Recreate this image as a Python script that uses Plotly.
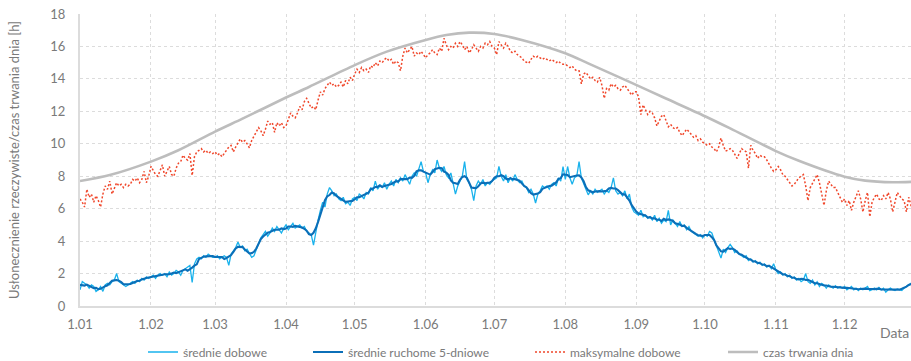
import pandas as pd
import plotly.graph_objects as go

# --- daily mean sunshine duration [h], month by month ---
mean_jan = [1.0, 1.5, 1.4, 1.3, 1.1, 1.3, 1.2, 0.9, 1.0, 1.2, 0.9, 1.3, 1.4, 1.3, 1.5, 1.6,
            2.0, 1.5, 1.4, 1.3, 1.2, 1.3, 1.4, 1.5, 1.4, 1.6, 1.5, 1.7, 1.6, 1.8, 1.7]
mean_feb = [1.8, 1.9, 1.7, 1.9, 2.0, 1.9, 2.0, 1.8, 2.1, 1.9, 2.0, 2.2, 2.1, 1.9, 2.2, 2.3,
            2.4, 2.5, 1.45, 2.6, 2.9, 3.0, 2.9, 3.1, 3.0, 3.2, 3.1, 3.0]
mean_mar = [3.0, 3.1, 2.9, 3.0, 3.1, 3.0, 2.5, 3.2, 3.4, 3.6, 3.95, 3.6, 3.7, 3.4, 3.5, 3.2,
            3.0, 3.1, 3.5, 3.9, 4.2, 4.4, 4.6, 4.3, 4.5, 4.8, 4.6, 4.9, 4.7, 4.5, 4.8]
mean_apr = [5.0, 4.7, 4.9, 5.1, 4.8, 4.9, 5.0, 4.8, 4.9, 4.6, 4.5, 4.4, 3.75, 4.6, 5.3, 5.9,
            6.4, 6.1, 6.9, 7.3, 7.1, 6.8, 6.9, 6.6, 6.5, 6.7, 6.3, 6.4, 6.2, 6.6]
mean_may = [6.7, 6.5, 6.9, 6.8, 6.6, 7.0, 6.9, 7.3, 7.1, 7.7, 7.2, 7.4, 7.3, 7.6, 7.2, 7.5,
            7.7, 7.4, 7.8, 7.6, 7.9, 7.7, 8.1, 7.8, 7.5, 8.0, 8.2, 8.0, 8.4, 8.9, 8.3]
mean_jun = [8.2, 7.6, 8.1, 8.4, 8.2, 9.0, 8.5, 8.3, 8.6, 8.1, 7.9, 8.2, 7.6, 6.9, 7.4, 7.7,
            8.0, 8.9, 7.8, 7.6, 7.2, 6.5, 7.4, 7.7, 7.5, 7.8, 7.4, 7.6, 7.5, 7.7]
mean_jul = [7.8, 7.9, 8.6, 8.0, 7.7, 8.1, 7.6, 7.9, 7.7, 8.1, 7.8, 7.6, 7.7, 7.4, 7.3, 7.0,
            7.2, 6.9, 6.35, 6.9, 7.1, 7.4, 7.3, 7.4, 7.2, 7.5, 7.6, 7.4, 7.9, 7.7, 8.6]
mean_aug = [7.8, 8.6, 7.9, 7.5, 7.9, 8.0, 8.9, 7.9, 7.6, 7.2, 6.85, 7.1, 6.9, 7.2, 7.0, 7.1,
            7.2, 6.9, 7.1, 7.0, 7.3, 7.9, 7.1, 6.9, 7.0, 6.8, 7.1, 6.6, 6.9, 6.1, 5.8]
mean_sep = [5.7, 5.6, 5.9, 5.5, 5.6, 5.4, 5.5, 5.3, 5.6, 5.2, 5.4, 5.1, 5.3, 5.2, 5.9, 5.0,
            5.3, 5.1, 4.9, 5.2, 4.9, 5.0, 4.7, 4.9, 4.6, 4.5, 4.4, 4.3, 4.4, 4.2]
mean_oct = [4.4, 4.3, 4.6, 4.5, 4.1, 3.7, 3.4, 2.95, 3.5, 3.3, 3.6, 3.8, 3.6, 3.3, 3.4, 3.2,
            3.1, 3.0, 3.1, 2.8, 2.9, 2.7, 2.8, 2.6, 2.7, 2.5, 2.6, 2.4, 2.5, 2.3, 2.6]
mean_nov = [2.2, 2.0, 2.1, 1.9, 2.0, 1.8, 1.9, 1.7, 1.8, 1.6, 1.7, 1.5, 1.6, 2.0, 1.5, 1.4,
            1.6, 1.3, 1.5, 1.2, 1.4, 1.3, 1.1, 1.3, 1.2, 1.1, 1.25, 1.1, 1.2, 1.1]
mean_dec = [1.2, 1.0, 1.1, 1.2, 1.0, 1.1, 0.95, 1.1, 1.0, 1.1, 1.2, 0.95, 1.0, 1.1, 1.0, 1.15,
            1.0, 1.1, 0.85, 1.0, 1.1, 1.0, 0.95, 1.05, 1.0, 0.95, 1.1, 1.2, 1.3, 1.4, 1.5]

# --- daily maximum sunshine duration [h] ---
max_jan = [6.6, 6.4, 6.1, 7.2, 6.7, 6.9, 6.4, 6.8, 6.5, 6.1, 6.9, 7.4, 7.2, 7.7, 6.9, 7.3,
           7.6, 7.4, 7.5, 7.3, 7.5, 7.4, 7.5, 7.8, 7.7, 7.9, 7.6, 7.8, 8.3, 7.6, 8.0]
max_feb = [8.6, 8.3, 8.1, 8.0, 8.4, 8.7, 8.0, 8.3, 8.6, 8.1, 8.0, 8.5, 8.8, 8.9, 9.3, 9.1,
           9.0, 9.4, 8.05, 9.2, 9.5, 9.6, 9.7, 9.5, 9.6, 9.4, 9.5, 9.4]
max_mar = [9.5, 9.3, 9.4, 9.2, 9.4, 9.6, 9.8, 9.9, 9.5, 9.8, 10.1, 10.3, 10.1, 10.2, 10.0, 9.75,
           10.2, 10.5, 10.7, 11.0, 10.8, 10.5, 10.9, 11.4, 11.2, 11.3, 10.7, 11.3, 11.1, 11.3, 11.0]
max_apr = [11.1, 11.5, 11.9, 11.7, 11.6, 11.9, 12.3, 12.1, 12.6, 12.8, 12.5, 12.2, 12.3, 12.1,
           12.7, 13.2, 13.0, 13.4, 13.6, 13.8, 13.6, 13.7, 13.5, 13.6, 13.8, 13.5, 13.9, 13.7,
           14.1, 13.9]
max_may = [14.3, 14.6, 14.4, 14.7, 14.5, 14.6, 14.4, 14.8, 14.7, 15.0, 14.8, 15.1, 15.0, 15.2,
           15.3, 15.1, 15.2, 14.9, 15.1, 15.0, 14.5, 15.4, 15.9, 15.6, 15.8, 16.0, 15.4, 15.6,
           15.5, 15.7, 15.5]
max_jun = [15.3, 15.5, 15.6, 15.8, 15.6, 15.5, 15.9, 15.7, 16.5, 16.1, 15.8, 16.0, 15.9, 16.2,
           16.0, 16.3, 16.1, 15.8, 16.0, 15.6, 15.8, 16.1, 15.9, 15.7, 16.0, 15.9, 16.2, 16.1,
           16.3, 16.0]
max_jul = [15.9, 15.5, 16.3, 16.1, 15.9, 16.2, 16.0, 15.7, 15.6, 15.7, 15.5, 15.4, 15.3, 15.1,
           15.0, 14.95, 15.2, 15.4, 15.3, 15.4, 15.3, 15.2, 15.3, 15.2, 15.1, 15.2, 15.1, 15.0,
           15.1, 14.95, 14.9]
max_aug = [14.9, 14.8, 14.7, 14.8, 14.6, 14.5, 14.5, 13.7, 14.3, 14.4, 14.2, 14.0, 14.1, 13.9,
           13.8, 14.1, 13.6, 12.8, 13.4, 13.3, 13.7, 13.5, 13.6, 13.4, 13.3, 13.5, 13.6, 13.4,
           13.2, 13.0, 13.2]
max_sep = [13.2, 12.9, 11.8, 12.4, 12.1, 11.8, 12.0, 11.9, 11.6, 11.1, 11.4, 11.7, 11.8, 11.4,
           11.05, 11.2, 11.0, 10.9, 11.0, 10.7, 10.5, 10.7, 10.9, 10.75, 10.6, 10.4, 10.5, 10.2,
           10.3, 10.1]
max_oct = [10.0, 9.9, 10.0, 9.8, 9.7, 9.5, 9.8, 10.35, 9.9, 9.55, 9.6, 9.7, 9.6, 9.3, 9.1, 9.4,
           9.7, 9.6, 9.5, 8.5, 9.9, 9.6, 9.4, 9.1, 9.3, 9.2, 9.2, 9.0, 8.7, 8.5, 8.3]
max_nov = [8.4, 8.6, 8.4, 8.1, 8.0, 7.8, 7.6, 7.4, 7.5, 7.7, 7.9, 8.0, 8.1, 7.4, 6.5, 7.3,
           7.6, 7.9, 8.1, 7.6, 7.0, 6.2, 7.1, 7.7, 7.5, 7.3, 7.3, 7.0, 6.8, 6.4]
max_dec = [6.6, 6.2, 6.5, 5.9, 6.4, 6.8, 7.1, 6.6, 5.8, 6.5, 7.0, 5.5, 6.4, 6.7, 6.9, 6.6,
           6.5, 6.8, 6.6, 7.0, 6.6, 5.8, 6.5, 7.0, 6.8, 6.6, 6.5, 5.8, 6.7, 6.2, 5.9]

# --- astronomical day length [h] ---
daylen_dates = ["2019-01-01", "2019-01-14", "2019-02-01", "2019-02-13", "2019-03-01",
                "2019-03-13", "2019-04-01", "2019-04-11", "2019-05-01", "2019-05-15",
                "2019-06-01", "2019-06-10", "2019-06-20", "2019-07-01", "2019-07-13",
                "2019-08-01", "2019-08-11", "2019-08-30", "2019-09-13", "2019-10-01",
                "2019-10-12", "2019-11-01", "2019-11-11", "2019-12-01", "2019-12-10",
                "2019-12-22", "2019-12-31"]
daylen_hours = [7.7, 8.07, 8.9, 9.6, 10.75, 11.55, 12.85, 13.5, 14.85, 15.68, 16.4, 16.7,
                16.85, 16.77, 16.4, 15.58, 14.96, 13.75, 12.85, 11.7, 10.95, 9.55, 8.95,
                7.97, 7.73, 7.63, 7.66]

# --- axis ticks ---
month_starts = ["2019-%02d-01" % m for m in range(1, 13)]
month_labels = ["1.01", "1.02", "1.03", "1.04", "1.05", "1.06",
                "1.07", "1.08", "1.09", "1.10", "1.11", "1.12"]

daily_mean = (mean_jan + mean_feb + mean_mar + mean_apr + mean_may + mean_jun +
              mean_jul + mean_aug + mean_sep + mean_oct + mean_nov + mean_dec)
daily_max = (max_jan + max_feb + max_mar + max_apr + max_may + max_jun +
             max_jul + max_aug + max_sep + max_oct + max_nov + max_dec)
days = pd.date_range("2019-01-01", periods=len(daily_mean), freq="D")
moving_avg = pd.Series(daily_mean).rolling(5, center=True, min_periods=1).mean()

FONT = "Lato, 'Open Sans', sans-serif"
GREY_TXT = "#7a7a7a"
GRID = "#dcdcdc"
W, H = 911, 361

fig = go.Figure()
fig.add_trace(go.Scatter(x=pd.to_datetime(daylen_dates), y=daylen_hours, mode="lines",
                         name="czas trwania dnia", legend="legend4",
                         line=dict(color="#bdbdbd", width=2.6, shape="spline", smoothing=0.8)))
fig.add_trace(go.Scatter(x=days, y=daily_max, mode="lines", name="maksymalne dobowe",
                         legend="legend3",
                         line=dict(color="#f0472b", width=1.5, dash="2px,2px")))
fig.add_trace(go.Scatter(x=days, y=daily_mean, mode="lines", name="średnie dobowe",
                         legend="legend",
                         line=dict(color="#19b2ec", width=1.3)))
fig.add_trace(go.Scatter(x=days, y=moving_avg, mode="lines", name="średnie ruchome 5-dniowe",
                         legend="legend2",
                         line=dict(color="#0b6fb8", width=2.1)))

legend_common = dict(orientation="h", xref="container", yref="container",
                     yanchor="middle", xanchor="left", y=1 - 352 / H,
                     font=dict(family=FONT, size=12, color=GREY_TXT),
                     bgcolor="rgba(0,0,0,0)", itemwidth=30)

fig.update_layout(
    width=W, height=H,
    margin=dict(l=80, r=0, t=14, b=55),
    paper_bgcolor="white", plot_bgcolor="white",
    font=dict(family=FONT, size=12, color=GREY_TXT),
    showlegend=True,
    legend=dict(legend_common, x=143 / W),
    legend2=dict(legend_common, x=308 / W),
    legend3=dict(legend_common, x=530 / W),
    legend4=dict(legend_common, x=723 / W),
    xaxis=dict(range=["2019-01-01", "2019-12-30"], tickvals=pd.to_datetime(month_starts),
               ticktext=month_labels, showgrid=True, gridcolor=GRID, griddash="3px,3px",
               gridwidth=1, showline=True, linecolor=GRID, linewidth=2,
               ticks="outside", ticklen=5, tickcolor="rgba(0,0,0,0)",
               tickfont=dict(family=FONT, size=13, color=GREY_TXT), zeroline=False),
    yaxis=dict(range=[0, 18], dtick=2, showgrid=True, gridcolor=GRID, griddash="3px,3px",
               gridwidth=1, showline=True, linecolor=GRID, linewidth=2,
               ticks="outside", ticklen=10, tickcolor="rgba(0,0,0,0)",
               tickfont=dict(family=FONT, size=13, color=GREY_TXT), zeroline=False,
               title=dict(text="Usłonecznienie rzeczywiste/czas trwania dnia [h]",
                          font=dict(family=FONT, size=13, color=GREY_TXT), standoff=28)),
    annotations=[dict(text="Data", xref="paper", yref="paper", x=1, y=0, xanchor="right",
                      yanchor="top", yshift=-16, showarrow=False,
                      font=dict(family=FONT, size=14, color=GREY_TXT))],
)

fig.write_html("out.html")
